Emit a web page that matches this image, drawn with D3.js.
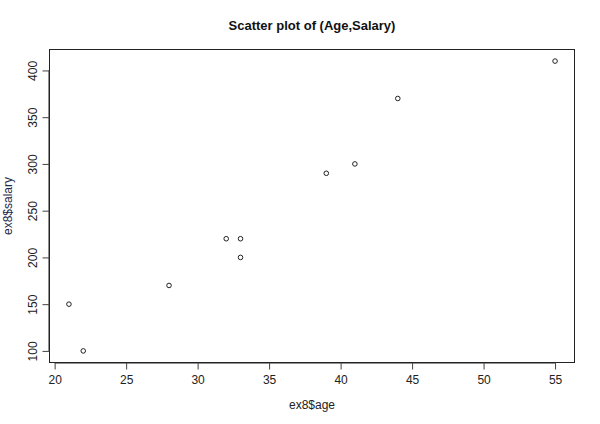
<!DOCTYPE html>
<html><head><meta charset="utf-8">
<script src="https://cdn.jsdelivr.net/npm/d3@7"></script>
<style>
html,body{margin:0;padding:0;background:#fff;}
svg{display:block;font-family:"Liberation Sans",Arial,sans-serif;}
</style></head>
<body>
<svg id="c" width="600" height="424"></svg>
<script>
const age = [21, 22, 28, 32, 33, 33, 39, 41, 44, 55];
const salary = [150, 100, 170, 220, 220, 200, 290, 300, 370, 410];
const xTicks = [20, 25, 30, 35, 40, 45, 50, 55];
const yTicks = [100, 150, 200, 250, 300, 350, 400];
const title = "Scatter plot of (Age,Salary)";
const xLabel = "ex8$age";
const yLabel = "ex8$salary";

const svg = d3.select("#c");
const L = 49.5, R = 574.5, T = 49.5, B = 362.5;
const xr = d3.extent(age), yr = d3.extent(salary);
const xp = (xr[1]-xr[0])*0.04, yp = (yr[1]-yr[0])*0.04;
const x = d3.scaleLinear().domain([xr[0]-xp, xr[1]+xp]).range([L, R]);
const y = d3.scaleLinear().domain([yr[0]-yp, yr[1]+yp]).range([B, T]);

svg.append("rect").attr("x", L).attr("y", T).attr("width", R-L).attr("height", B-T)
  .attr("fill", "none").attr("stroke", "#222").attr("stroke-width", 1);

const xa = svg.append("g").attr("transform", `translate(0,${B})`)
  .call(d3.axisBottom(x).tickValues(xTicks).tickSize(7).tickPadding(6).tickSizeOuter(0));
xa.select(".domain").attr("d", `M${x(xTicks[0])},0.5H${x(xTicks[xTicks.length-1])}`).attr("stroke", "#222");
xa.selectAll("line").attr("stroke", "#444");
xa.selectAll("text").attr("font-size", 12).attr("fill", "#222")
  .attr("font-family", "Liberation Sans, Arial, sans-serif");

const ya = svg.append("g").attr("transform", `translate(${L},0)`)
  .call(d3.axisLeft(y).tickValues(yTicks).tickSize(7).tickSizeOuter(0));
ya.select(".domain").attr("d", `M-0.5,${y(yTicks[0])}V${y(yTicks[yTicks.length-1])}`).attr("stroke", "#222");
ya.selectAll("line").attr("stroke", "#444");
ya.selectAll(".tick text").attr("font-size", 12).attr("fill", "#222")
  .attr("font-family", "Liberation Sans, Arial, sans-serif")
  .attr("x", 0).attr("dy", 0).attr("y", 0)
  .attr("text-anchor", "middle")
  .attr("transform", "translate(-13,0) rotate(-90)");

svg.append("g").selectAll("circle").data(age.map((a,i)=>({a, s: salary[i]})))
  .join("circle").attr("cx", d => x(d.a)).attr("cy", d => y(d.s)).attr("r", 2.3)
  .attr("fill", "none").attr("stroke", "#222").attr("stroke-width", 1);

svg.append("text").attr("x", (L+R)/2).attr("y", 29.5).attr("text-anchor", "middle")
  .attr("font-size", 13).attr("font-weight", "bold").attr("fill", "#111").text(title);
svg.append("text").attr("x", (L+R)/2).attr("y", 409).attr("text-anchor", "middle")
  .attr("font-size", 12).attr("fill", "#222").text(xLabel);
svg.append("text").attr("transform", `translate(12,${(T+B)/2}) rotate(-90)`).attr("text-anchor", "middle")
  .attr("font-size", 12).attr("fill", "#1a2a4a").text(yLabel);
</script>
</body></html>
